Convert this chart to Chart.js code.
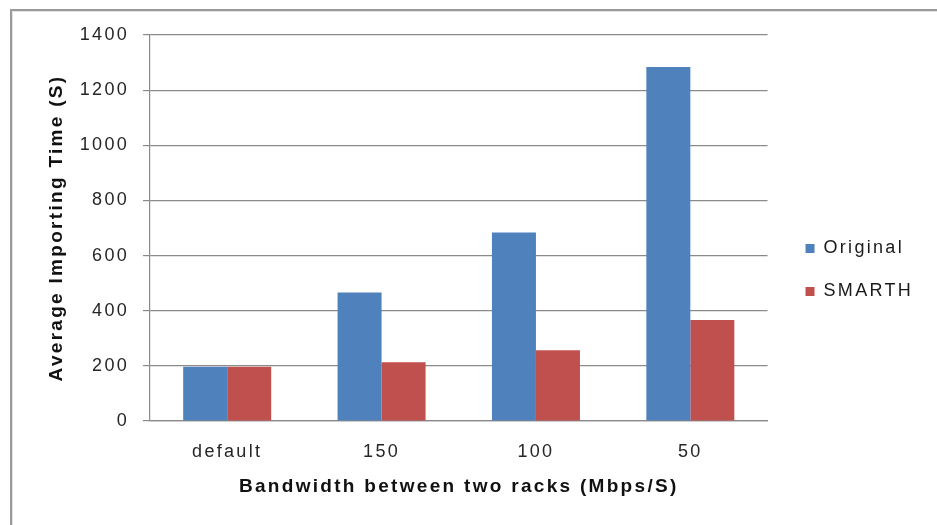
<!DOCTYPE html>
<html>
<head>
<meta charset="utf-8">
<script src="https://cdn.jsdelivr.net/npm/chart.js@4/dist/chart.umd.min.js"></script>
<style>
  html, body { margin: 0; padding: 0; background: #fff; }
  #wrap { position: relative; width: 937px; height: 525px; overflow: hidden; background: #fff; }
  #chart { position: absolute; left: 0; top: 0; }
  #frame {
    position: absolute; left: 10px; top: 9px; width: 960px; height: 560px;
    border-top: 2px solid #9a9a9a; border-left: 2px solid #9a9a9a;
    box-shadow: inset 1px 1px 0 #e4e4e4; pointer-events: none;
  }
</style>
</head>
<body>
<div id="wrap">
  <canvas id="chart" width="937" height="525"></canvas>
  <div id="frame"></div>
</div>
<script>
// Bandwidth settings between the two racks
const categories = ['default', '150', '100', '50'];
// Average importing time in seconds
const originalTimes = [197, 466, 684, 1284];
const smarthTimes = [197, 213, 257, 366];
// Value axis
const yMin = 0;
const yMax = 1400;
const yStep = 200;

const FONT = "'Liberation Sans', Arial, sans-serif";
const LEGEND_PAD = 25;

// Widen glyph spacing on every text the chart draws
const textSpacing = {
  id: 'textSpacing',
  beforeUpdate(chart) { chart.ctx.letterSpacing = '2.3px'; },
  beforeDraw(chart) { chart.ctx.letterSpacing = '2.3px'; }
};

// Place the legend a little away from the plot and slightly below centre
const legendPlacement = {
  id: 'legendPlacement',
  afterLayout(chart) {
    const l = chart.legend;
    if (!l) return;
    const dx = chart.chartArea.right + 38 - (l.left + LEGEND_PAD);
    const dy = 270 - (l.top + l.bottom) / 2;
    l.left += dx; l.right += dx;
    l.top += dy; l.bottom += dy;
  }
};

new Chart(document.getElementById('chart'), {
  type: 'bar',
  data: {
    labels: categories,
    datasets: [
      { label: 'Original', data: originalTimes, backgroundColor: '#4F81BD', borderWidth: 0 },
      { label: 'SMARTH', data: smarthTimes, backgroundColor: '#C0504D', borderWidth: 0 }
    ]
  },
  options: {
    responsive: false,
    animation: false,
    devicePixelRatio: 1,
    layout: { padding: { top: 35, left: 0, right: 27, bottom: 0 } },
    datasets: { bar: { categoryPercentage: 0.57, barPercentage: 1.0 } },
    plugins: {
      tooltip: { enabled: false },
      legend: {
        position: 'right',
        align: 'center',
        labels: {
          boxWidth: 9,
          boxHeight: 9,
          padding: LEGEND_PAD,
          color: '#1a1a1a',
          font: { family: FONT, size: 18 }
        }
      }
    },
    scales: {
      x: {
        afterFit(scale) { scale.height = 104; },
        grid: { display: false, drawTicks: false },
        border: { display: true, color: '#8a8a8a', width: 1.2 },
        ticks: { padding: 20, color: '#262626', font: { family: FONT, size: 18 } },
        title: {
          display: true,
          text: 'Bandwidth between two racks (Mbps/S)',
          color: '#111',
          font: { family: FONT, size: 19, weight: 'bold' },
          padding: { top: 0, bottom: 27 }
        }
      },
      y: {
        min: yMin,
        max: yMax,
        afterFit(scale) { scale.width = 150; },
        grid: { color: '#8a8a8a', lineWidth: 1.2, tickLength: 7 },
        border: { display: true, color: '#8a8a8a', width: 1.2 },
        ticks: {
          stepSize: yStep,
          padding: 14,
          color: '#262626',
          font: { family: FONT, size: 18 },
          callback: (value) => String(value)
        },
        title: {
          display: true,
          text: 'Average Importing Time (S)',
          color: '#111',
          font: { family: FONT, size: 19, weight: 'bold' },
          padding: { top: 45, bottom: 0 }
        }
      }
    }
  },
  plugins: [textSpacing, legendPlacement]
});
</script>
</body>
</html>
